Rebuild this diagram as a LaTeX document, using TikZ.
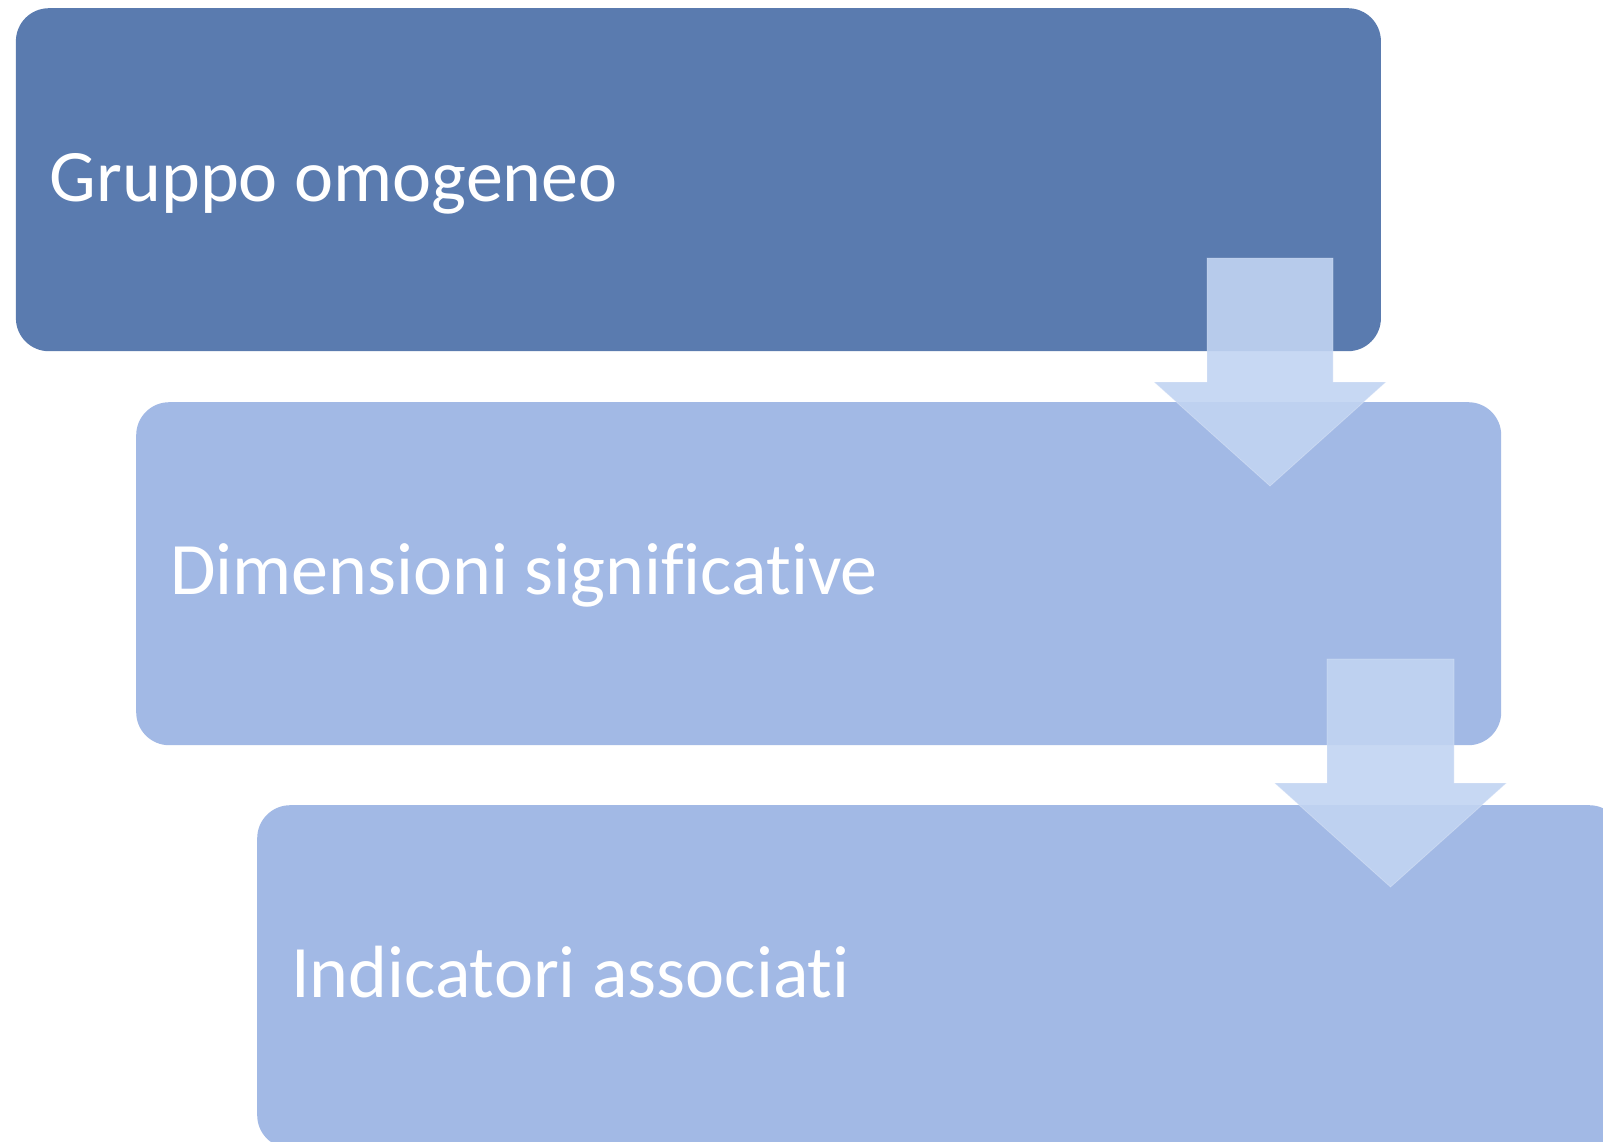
\documentclass[tikz,border=0pt]{standalone}
\usepackage{fontspec}
\setmainfont[Ligatures=NoCommon]{Carlito}
\definecolor{darkbox}{RGB}{90,123,175}
\definecolor{lightbox}{RGB}{162,185,229}
\definecolor{arrowfill}{RGB}{194,212,242}
\begin{document}
\begin{tikzpicture}[x=1pt,y=-1pt,
  stepbox/.style={rounded corners=33pt, minimum width=1365pt, minimum height=343pt,
    inner sep=0pt, anchor=north west},
  steplabel/.style={anchor=base west, inner sep=0pt, text=white, font=\fontsize{74}{88}\selectfont},
  blockarrow/.style={fill=arrowfill, fill opacity=0.9, draw=white, draw opacity=0.25, line width=0.8pt}]
\useasboundingbox (0,0) rectangle (1603,1141);
\clip (0,0) rectangle (1603,1141);
\fill[white] (0,0) rectangle (1603,1141);
\node[stepbox, fill=darkbox] (b1) at (15.7,8) {};
\node[stepbox, fill=lightbox] (b2) at (136,402) {};
\node[stepbox, fill=lightbox] (b3) at (257,805) {};
\node[steplabel] (t1) at ([xshift=34pt,yshift=-193pt]b1.north west) {Gruppo omogeneo};
\node[steplabel] (t2) at ([xshift=34pt,yshift=-192pt]b2.north west) {Dimensioni significative};
\node[steplabel] (t3) at ([xshift=34pt,yshift=-192pt]b3.north west) {Indicatori associati};
\coordinate (a1top) at (1270,258);
\coordinate (a1tip) at (1270,486);
\coordinate (a2top) at (1390.5,659);
\coordinate (a2tip) at (1390.5,887);
\path[blockarrow] ([xshift=-63pt]a1top) -- ([xshift=63pt]a1top) -- ([xshift=63pt,yshift=104pt]a1tip)
  -- ([xshift=116pt,yshift=104pt]a1tip) -- (a1tip) -- ([xshift=-116pt,yshift=104pt]a1tip)
  -- ([xshift=-63pt,yshift=104pt]a1tip) -- cycle;
\path[blockarrow] ([xshift=-63.5pt]a2top) -- ([xshift=63.5pt]a2top) -- ([xshift=63.5pt,yshift=104pt]a2tip)
  -- ([xshift=116pt,yshift=104pt]a2tip) -- (a2tip) -- ([xshift=-116pt,yshift=104pt]a2tip)
  -- ([xshift=-63.5pt,yshift=104pt]a2tip) -- cycle;
\end{tikzpicture}
\end{document}
